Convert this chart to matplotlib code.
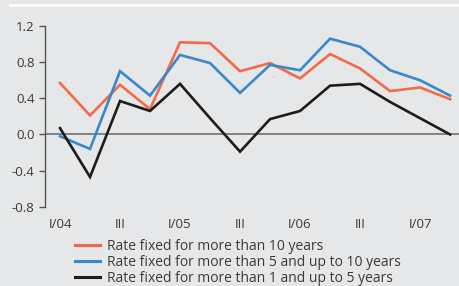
import matplotlib
matplotlib.use('Agg')
import matplotlib.pyplot as plt
from matplotlib.lines import Line2D

# quarterly data, Q1 2004 - Q2 2007
quarters = list(range(14))
tick_pos = [0, 2, 4, 6, 8, 10, 12]
tick_labels = ['I/04', 'III', 'I/05', 'III', 'I/06', 'III', 'I/07']

over_10 = [0.57, 0.21, 0.55, 0.28, 1.02, 1.01, 0.70, 0.79, 0.62, 0.89, 0.73, 0.48, 0.52, 0.39]
from_5_to_10 = [-0.02, -0.16, 0.70, 0.43, 0.88, 0.79, 0.46, 0.77, 0.71, 1.06, 0.97, 0.71, 0.60, 0.43]
from_1_to_5 = [0.07, -0.47, 0.37, 0.26, 0.56, 0.18, -0.19, 0.17, 0.26, 0.54, 0.56, 0.36, 0.18, 0.00]

labels = ['Rate fixed for more than 10 years',
          'Rate fixed for more than 5 and up to 10 years',
          'Rate fixed for more than 1 and up to 5 years']
colors = ['#f26a4b', '#3b88c9', '#1c1c1c']

bg = '#e6e7e8'
plt.rcParams['font.family'] = ['Open Sans', 'DejaVu Sans']

fig = plt.figure(figsize=(4.6, 2.86), dpi=100, facecolor=bg)
ax = fig.add_axes([45 / 460, 1 - 206.8 / 286, 1 - 45 / 460, (206.8 - 26) / 286])
ax.set_facecolor(bg)

ax.axhline(0, color='#7a7a7a', lw=1.3, zorder=1)
for series, c in zip([over_10, from_5_to_10, from_1_to_5], colors):
    ax.plot(quarters, series, color=c, lw=1.9, zorder=2, solid_joinstyle='miter')

ax.set_xlim(-0.5, 13.33)
ax.set_ylim(-0.8, 1.2)
ax.set_yticks([-0.8, -0.4, 0.0, 0.4, 0.8, 1.2])
ax.set_yticklabels(['-0.8', '-0.4', '0.0', '0.4', '0.8', '1.2'])
ax.set_xticks(tick_pos)
ax.set_xticklabels(tick_labels)
ax.tick_params(axis='x', length=0, pad=8, labelsize=9.5, colors='#3a3a3a')
ax.tick_params(axis='y', length=4, width=1, direction='out', pad=3.5,
               labelsize=9.5, colors='#3a3a3a')
ax.tick_params(axis='y', color='#555555')
for s in ['top', 'right', 'bottom']:
    ax.spines[s].set_visible(False)
ax.spines['left'].set_color('#555555')
ax.spines['left'].set_linewidth(1)

# white rule at the top
fig.add_artist(Line2D([10 / 460, 1], [1 - 5 / 286, 1 - 5 / 286], color='white', lw=2))

handles = [Line2D([], [], color=c, lw=2.2) for c in colors]
fig.legend(handles, labels, loc='upper left', bbox_to_anchor=(75 / 460, 1 - 239 / 286),
           frameon=False, fontsize=10, handlelength=1.8, handletextpad=0.5,
           labelspacing=0.07, borderpad=0, borderaxespad=0, labelcolor='#3a3a3a')

fig.savefig('out.png', dpi=100, facecolor=bg)
